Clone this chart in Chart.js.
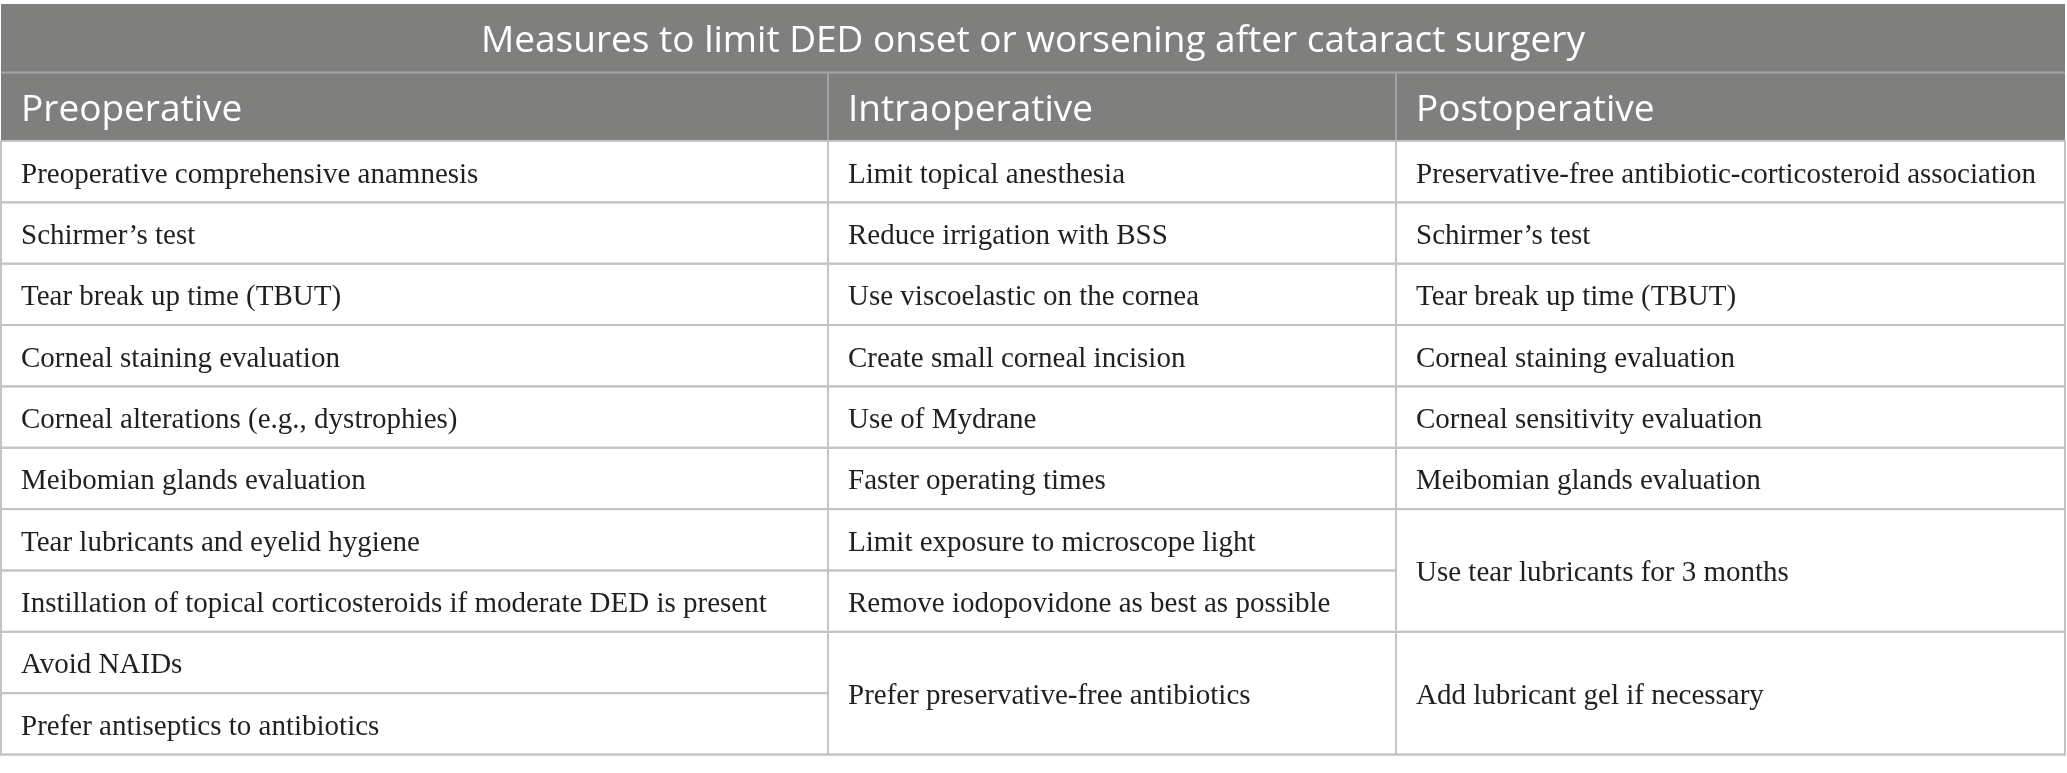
<!DOCTYPE html>
<html>
<head>
<meta charset="utf-8">
<script src="https://cdn.jsdelivr.net/npm/chart.js@4"></script>
<style>
  html, body { margin: 0; padding: 0; background: #ffffff; }
  #wrap { width: 2067px; height: 773px; }
</style>
</head>
<body>
<div id="wrap"><canvas id="c" width="2067" height="773"></canvas></div>
<script>
// ---------------- DATA ----------------
const title = "Measures to limit DED onset or worsening after cataract surgery";
const phases = ["Preoperative", "Intraoperative", "Postoperative"];

const preoperative = [
  "Preoperative comprehensive anamnesis",
  "Schirmer\u2019s test",
  "Tear break up time (TBUT)",
  "Corneal staining evaluation",
  "Corneal alterations (e.g., dystrophies)",
  "Meibomian glands evaluation",
  "Tear lubricants and eyelid hygiene",
  "Instillation of topical corticosteroids if moderate DED is present",
  "Avoid NAIDs",
  "Prefer antiseptics to antibiotics"
];
const preoperativeSpans = [1, 1, 1, 1, 1, 1, 1, 1, 1, 1];

const intraoperative = [
  "Limit topical anesthesia",
  "Reduce irrigation with BSS",
  "Use viscoelastic on the cornea",
  "Create small corneal incision",
  "Use of Mydrane",
  "Faster operating times",
  "Limit exposure to microscope light",
  "Remove iodopovidone as best as possible",
  "Prefer preservative-free antibiotics"
];
const intraoperativeSpans = [1, 1, 1, 1, 1, 1, 1, 1, 2];

const postoperative = [
  "Preservative-free antibiotic-corticosteroid association",
  "Schirmer\u2019s test",
  "Tear break up time (TBUT)",
  "Corneal staining evaluation",
  "Corneal sensitivity evaluation",
  "Meibomian glands evaluation",
  "Use tear lubricants for 3 months",
  "Add lubricant gel if necessary"
];
const postoperativeSpans = [1, 1, 1, 1, 1, 1, 2, 2];

// ---------------- LAYOUT / STYLE ----------------
const W = 2067, H = 773;
const COL_EDGES = [1, 828, 1396, 2065];
const TABLE_TOP = 4, TITLE_H = 68.5, HEAD_H = 68.5, ROW_H = 61.35;
const N_ROWS = preoperative.length;
const HEAD_BG = "#7f807e";
const HEAD_LINE = "#a3a3a3";
const GRID = "#c4c4c4";
const TEXT_COLOR = "#231f20";
const SANS = '"Open Sans", "Noto Sans", sans-serif';
const SERIF = '"Liberation Serif", "DejaVu Serif", serif';
const PAD_X = 20;

const columns = [
  { items: preoperative, spans: preoperativeSpans },
  { items: intraoperative, spans: intraoperativeSpans },
  { items: postoperative, spans: postoperativeSpans }
];

function rowTop(i) { return TABLE_TOP + TITLE_H + HEAD_H + i * ROW_H; }

const tablePlugin = {
  id: 'tablePlugin',
  afterDraw(chart) {
    const ctx = chart.ctx;
    const xs = chart.scales.x, ys = chart.scales.y;
    const px = v => xs.getPixelForValue(v);
    const py = v => ys.getPixelForValue(v);
    ctx.save();

    const xL = px(COL_EDGES[0]), xR = px(COL_EDGES[COL_EDGES.length - 1]);
    const yTitleTop = py(TABLE_TOP);
    const yTitleBot = py(TABLE_TOP + TITLE_H);
    const yHeadBot = py(TABLE_TOP + TITLE_H + HEAD_H);
    const yBottom = py(rowTop(N_ROWS));

    // header background
    ctx.fillStyle = HEAD_BG;
    ctx.fillRect(xL, yTitleTop, xR - xL, yHeadBot - yTitleTop);

    // header separators
    ctx.strokeStyle = HEAD_LINE;
    ctx.lineWidth = 2;
    ctx.beginPath();
    ctx.moveTo(xL, yTitleBot); ctx.lineTo(xR, yTitleBot);
    for (let c = 1; c < COL_EDGES.length - 1; c++) {
      const x = px(COL_EDGES[c]);
      ctx.moveTo(x, yTitleBot); ctx.lineTo(x, yHeadBot);
    }
    ctx.stroke();

    // title
    ctx.fillStyle = "#ffffff";
    ctx.font = "37px " + SANS;
    ctx.textAlign = "center";
    ctx.textBaseline = "alphabetic";
    ctx.fillText(title, (xL + xR) / 2, (yTitleTop + yTitleBot) / 2 + 14);

    // phase headers
    ctx.textAlign = "left";
    phases.forEach((p, c) => {
      ctx.fillText(p, px(COL_EDGES[c]) + PAD_X, (yTitleBot + yHeadBot) / 2 + 14);
    });

    // body cells
    ctx.font = "29px " + SERIF;
    ctx.strokeStyle = GRID;
    ctx.lineWidth = 2;
    columns.forEach((col, c) => {
      const x0 = px(COL_EDGES[c]), x1 = px(COL_EDGES[c + 1]);
      let r = 0;
      col.items.forEach((txt, k) => {
        const span = col.spans[k];
        const y0 = py(rowTop(r)), y1 = py(rowTop(r + span));
        ctx.strokeRect(x0, y0, x1 - x0, y1 - y0);
        ctx.fillStyle = TEXT_COLOR;
        ctx.fillText(txt, x0 + PAD_X, (y0 + y1) / 2 + 11);
        r += span;
      });
    });

    // outer border
    ctx.strokeStyle = GRID;
    ctx.lineWidth = 2;
    ctx.beginPath();
    ctx.moveTo(xL, yHeadBot); ctx.lineTo(xL, yBottom); ctx.lineTo(xR, yBottom); ctx.lineTo(xR, yHeadBot);
    ctx.stroke();
    ctx.restore();
  }
};

function build() {
  new Chart(document.getElementById('c'), {
    type: 'scatter',
    data: { datasets: [{ data: [], pointRadius: 0 }] },
    options: {
      responsive: false,
      animation: false,
      devicePixelRatio: 1,
      layout: { padding: 0 },
      plugins: { legend: { display: false }, tooltip: { enabled: false } },
      scales: {
        x: { type: 'linear', min: 0, max: W, display: false },
        y: { type: 'linear', min: 0, max: H, reverse: true, display: false }
      }
    },
    plugins: [tablePlugin]
  });
}

Promise.all([
  document.fonts.load('37px "Open Sans"'),
  document.fonts.load('29px "Liberation Serif"')
]).then(build, build);
</script>
</body>
</html>
